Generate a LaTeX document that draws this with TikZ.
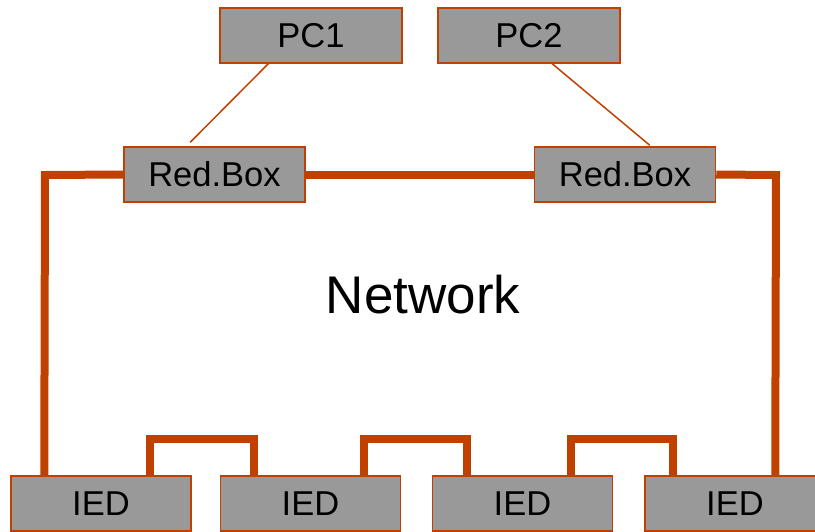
\documentclass[tikz,border=0pt]{standalone}
\usepackage{fontspec}
\setmainfont{Liberation Sans}
\usetikzlibrary{backgrounds}
\definecolor{linkc}{RGB}{192,64,0}
\definecolor{boxc}{RGB}{153,153,153}
\begin{document}
\begin{tikzpicture}[x=1pt,y=-1pt,
  dev/.style={draw=linkc, line width=1.5pt, fill=boxc, inner sep=0pt,
    minimum height=55pt, font=\fontsize{34.5}{40}\selectfont},
  pcbox/.style={dev, minimum width=182pt},
  redbox/.style={dev, minimum width=181pt},
  iedbox/.style={dev, minimum width=180pt},
  ring/.style={draw=linkc, line width=8pt},
  uplink/.style={draw=linkc, line width=1.5pt}]
\clip (0,0) rectangle (815,531);
\useasboundingbox (0,0) rectangle (815,531);
% ring corners
\coordinate (lcorner) at (45,175);
\coordinate (rcorner) at (776,175);
% devices
\node[pcbox] (pc1) at (311,35.5) {PC1};
\node[pcbox] (pc2) at (529,35.5) {PC2};
\node[redbox] (rb1) at (214.5,174.5) {Red.Box};
\node[redbox] (rb2) at (625,174.5) {Red.Box};
\node[iedbox] (ied1) at (101,503.5) {IED};
\node[iedbox] (ied2) at (310.5,503.5) {IED};
\node[iedbox] (ied3) at (522.5,503.5) {IED};
\node[iedbox] (ied4) at (735,503.5) {IED};
% ring links behind the boxes
\begin{scope}[on background layer]
\draw[ring] (rb1.west) -- (lcorner) -- ([xshift=34pt]ied1.north west);
\draw[ring] (rb1.east) -- (rb2.west);
\draw[ring] (rb2.east) -- (rcorner) -- ([xshift=131pt]ied4.north west);
\draw[ring] ([xshift=140pt]ied1.north west) -- ++(0,-36) -| ([xshift=34pt]ied2.north west);
\draw[ring] ([xshift=144pt]ied2.north west) -- ++(0,-36) -| ([xshift=35pt]ied3.north west);
\draw[ring] ([xshift=139pt]ied3.north west) -- ++(0,-36) -| ([xshift=29pt]ied4.north west);
\end{scope}
% PC uplinks
\draw[uplink] ([xshift=49pt]pc1.south west) -- ([xshift=67pt,yshift=4pt]rb1.north west);
\draw[uplink] ([xshift=115pt]pc2.south west) -- ([xshift=116pt,yshift=1pt]rb2.north west);
\node[font=\fontsize{53}{60}\selectfont] (net) at (423,295) {Network};
\end{tikzpicture}
\end{document}
